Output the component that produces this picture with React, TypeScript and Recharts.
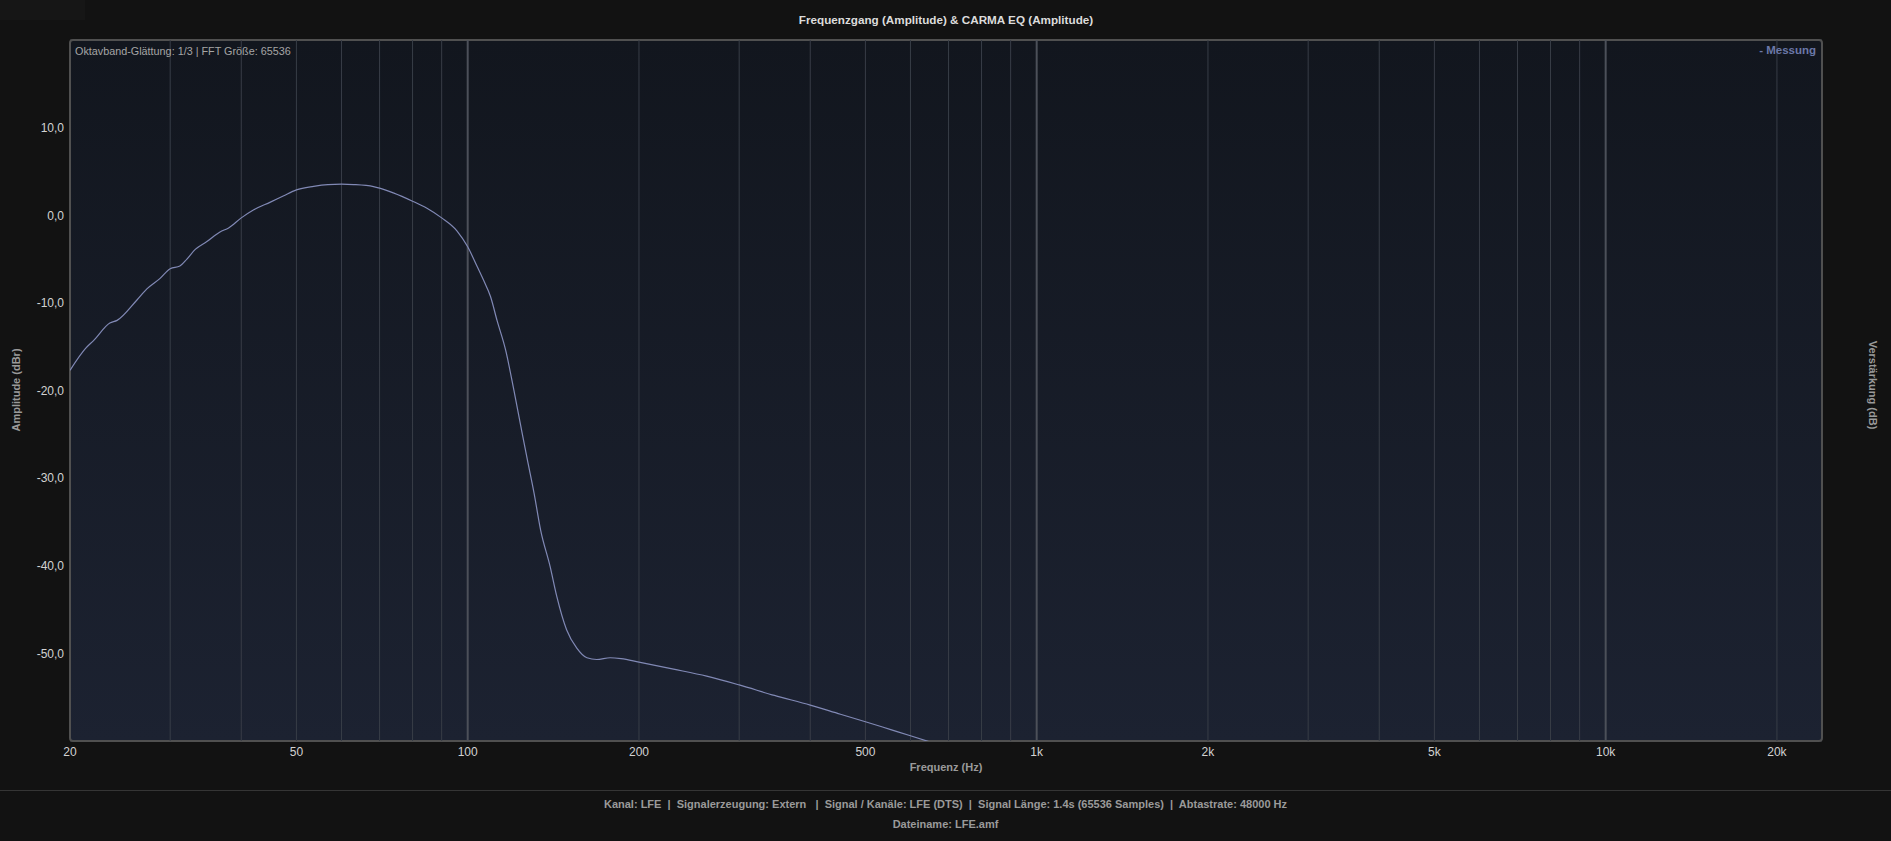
import React from "react";
import {
  CartesianGrid,
  Line,
  LineChart,
  ReferenceArea,
  ReferenceLine,
  XAxis,
  YAxis,
} from "recharts";

// Messung, 1/3 Oktav geglättet (Hz / dBr)
const freqs = [
  20, 21.3, 22, 23.5, 24.2, 26.2, 27.3, 28.8, 30, 31.2, 32.1, 33.2, 34.8, 36.7,
  38, 40, 42, 45, 47.4, 50, 53.6, 56.8, 60, 63, 68.3, 70, 74, 80, 84.8, 90,
  95.8, 100, 103.8, 106.6, 109.7, 112.6, 116.6, 120.5, 124, 127.3, 130.8,
  134.3, 139.6, 143.4, 149.2, 155.5, 162, 168.6, 178, 186, 200, 230, 263, 300,
  346, 400, 452, 500, 554, 600, 656,
];
const amplitude = [
  -17.7, -15.2, -14.3, -12.3, -12.0, -9.7, -8.4, -7.2, -6.1, -5.8, -5.0, -3.9,
  -3.0, -1.9, -1.45, -0.3, 0.6, 1.5, 2.2, 2.9, 3.3, 3.5, 3.55, 3.5, 3.27, 3.1,
  2.55, 1.6, 0.8, -0.3, -1.8, -3.6, -5.8, -7.4, -9.3, -12.0, -15.4, -19.9,
  -24.1, -27.9, -31.7, -35.9, -40.1, -43.5, -47.3, -49.4, -50.5, -50.7, -50.5,
  -50.6, -51.0, -51.8, -52.6, -53.6, -54.8, -55.9, -56.95, -57.8, -58.7,
  -59.4, -60.2,
];

const freqTicks = [20, 50, 100, 200, 500, 1000, 2000, 5000, 10000, 20000];
const gridMinor = [
  30, 40, 50, 60, 70, 80, 90, 200, 300, 400, 500, 600, 700, 800, 900, 2000,
  3000, 4000, 5000, 6000, 7000, 8000, 9000, 20000,
];
const gridMajor = [100, 1000, 10000];
const ampTicks = [-50, -40, -30, -20, -10, 0, 10];
const gainTicks = [-12, -6, 0, 6, 12];

const footerInfo =
  "Kanal: LFE  |  Signalerzeugung: Extern   |  Signal / Kanäle: LFE (DTS)  |  Signal Länge: 1.4s (65536 Samples)  |  Abtastrate: 48000 Hz";

const data = freqs.map((f, i) => ({ f, db: amplitude[i] }));

const fmtFreq = (v: number) => (v >= 1000 ? `${v / 1000}k` : `${v}`);
const fmtDb = (v: number) => v.toFixed(1).replace(".", ",");

const FONT = '"Liberation Sans", Arial, sans-serif';
const tickStyle = { fill: "#d2d2d2", fontSize: 12, fontFamily: FONT };

function Rotated({ x, y, angle, children }: any) {
  return (
    <div
      style={{
        position: "absolute",
        left: x,
        top: y,
        transform: `translate(-50%, -50%) rotate(${angle}deg)`,
        whiteSpace: "nowrap",
        fontWeight: "bold",
        fontSize: 11,
        color: "#9a9a9a",
      }}
    >
      {children}
    </div>
  );
}

export default function App() {
  return (
    <div
      style={{
        position: "relative",
        width: 1891,
        height: 841,
        background: "#121212",
        fontFamily: FONT,
        overflow: "hidden",
      }}
    >
      <style>{"body{margin:0;background:#121212}"}</style>
      <div
        style={{ position: "absolute", left: 0, top: 0, width: 85, height: 20, background: "#161616" }}
      />
      <LineChart
        width={1891}
        height={841}
        data={data}
        margin={{ top: 40, right: 9, bottom: 70, left: 10 }}
      >
        <defs>
          <linearGradient id="plotBg" x1="0" x2="0" y1="0" y2="1">
            <stop offset="0%" stopColor="#12161e" />
            <stop offset="100%" stopColor="#1c2231" />
          </linearGradient>
        </defs>
        <CartesianGrid
          vertical={false}
          stroke="#3a3e47"
          fill="url(#plotBg)"
          fillOpacity={1}
        />
        <XAxis
          dataKey="f"
          type="number"
          scale="log"
          domain={[20, 24000]}
          ticks={freqTicks}
          tickFormatter={fmtFreq}
          allowDataOverflow
          axisLine={false}
          tickLine={false}
          tickSize={4}
          tickMargin={2}
          height={30}
          tick={tickStyle}
          interval={0}
        />
        <YAxis
          yAxisId="left"
          domain={[-60, 20]}
          ticks={ampTicks}
          tickFormatter={fmtDb}
          allowDataOverflow
          axisLine={false}
          tickLine={false}
          tickSize={4}
          tickMargin={2}
          width={60}
          tick={tickStyle}
          interval={0}
        />
        <YAxis
          yAxisId="right"
          orientation="right"
          domain={[-12, 12]}
          ticks={gainTicks}
          tickFormatter={fmtDb}
          axisLine={false}
          tickLine={false}
          tickSize={6}
          tickMargin={4}
          width={60}
          tick={tickStyle}
          interval={0}
        />
        {gridMinor.map((f) => (
          <ReferenceLine key={`m${f}`} x={f} yAxisId="left" stroke="#383d47" strokeWidth={1} />
        ))}
        {gridMajor.map((f) => (
          <ReferenceLine key={`M${f}`} x={f} yAxisId="left" stroke="#4c5059" strokeWidth={2} />
        ))}
        <Line
          yAxisId="left"
          dataKey="db"
          type="monotone"
          stroke="#8189b5"
          strokeWidth={1.2}
          dot={false}
          isAnimationActive={false}
        />
        <ReferenceArea
          yAxisId="left"
          x1={20}
          x2={24000}
          y1={-60}
          y2={20}
          fill="none"
          stroke="#505050"
          strokeWidth={2}
          radius={3}
          ifOverflow="visible"
        />
      </LineChart>

      <div
        style={{
          position: "absolute",
          left: 70,
          width: 1752,
          top: 13,
          textAlign: "center",
          fontWeight: "bold",
          fontSize: 11.7,
          color: "#dcdcdc",
        }}
      >
        Frequenzgang (Amplitude) &amp; CARMA EQ (Amplitude)
      </div>
      <div style={{ position: "absolute", left: 75, top: 45, fontSize: 10.8, color: "#a5a5a5" }}>
        Oktavband-Glättung: 1/3 | FFT Größe: 65536
      </div>
      <div
        style={{
          position: "absolute",
          right: 75,
          top: 44,
          fontSize: 11.5,
          fontWeight: "bold",
          color: "#6b78a8",
        }}
      >
        - Messung
      </div>
      <Rotated x={16} y={390} angle={-90}>
        Amplitude (dBr)
      </Rotated>
      <Rotated x={1873} y={385} angle={90}>
        Verstärkung (dB)
      </Rotated>
      <div
        style={{
          position: "absolute",
          left: 70,
          width: 1752,
          top: 761,
          textAlign: "center",
          fontWeight: "bold",
          fontSize: 11,
          color: "#9a9a9a",
        }}
      >
        Frequenz (Hz)
      </div>
      <div
        style={{ position: "absolute", left: 0, top: 790, width: 1891, height: 1, background: "#353535" }}
      />
      <div
        style={{
          position: "absolute",
          left: 0,
          width: 1891,
          top: 798,
          textAlign: "center",
          fontWeight: "bold",
          fontSize: 11,
          color: "#9a9a9a",
          whiteSpace: "pre",
        }}
      >
        {footerInfo}
      </div>
      <div
        style={{
          position: "absolute",
          left: 0,
          width: 1891,
          top: 818,
          textAlign: "center",
          fontWeight: "bold",
          fontSize: 11,
          color: "#9a9a9a",
        }}
      >
        Dateiname: LFE.amf
      </div>
    </div>
  );
}
